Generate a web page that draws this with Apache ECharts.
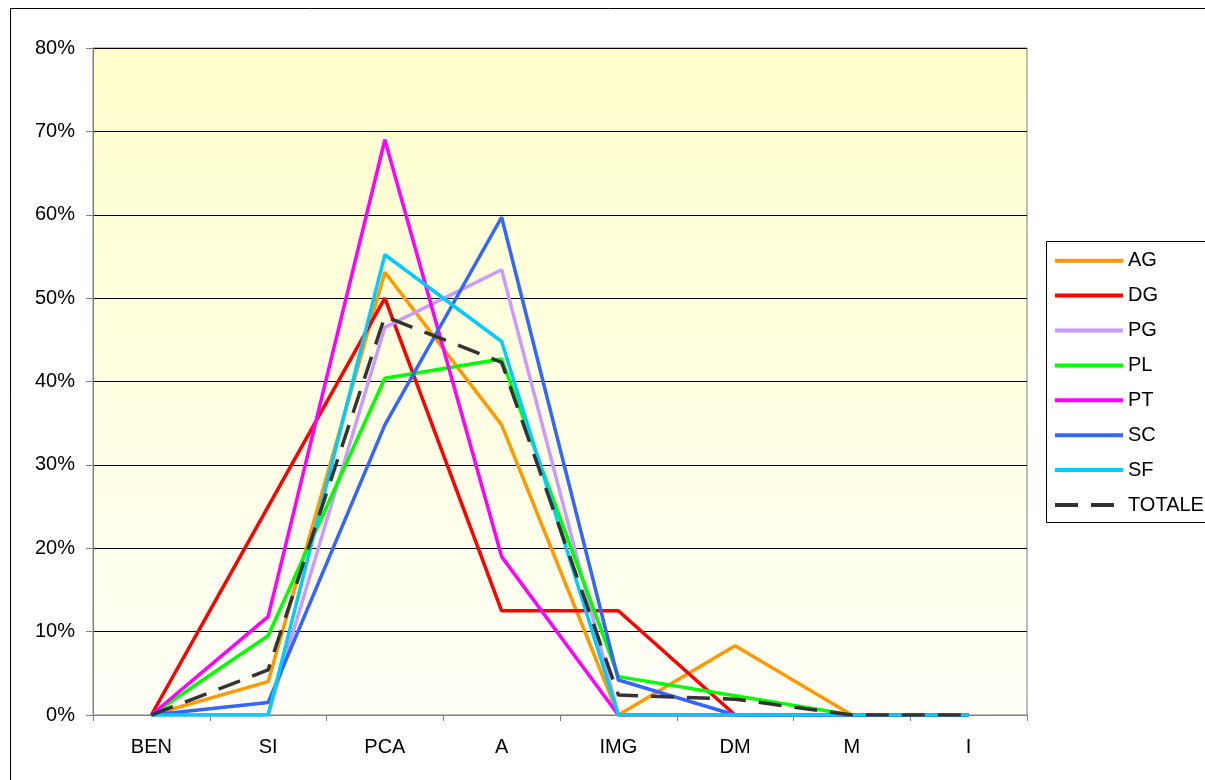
<!DOCTYPE html>
<html><head><meta charset="utf-8">
<script src="https://cdn.jsdelivr.net/npm/echarts@6/dist/echarts.min.js"></script>
<style>html,body{margin:0;padding:0;background:#fff}#c{width:1205px;height:780px}</style>
</head><body><div id="c"></div>
<script>
const categories = ['BEN','SI','PCA','A','IMG','DM','M','I'];
const AG     = [0, 0.040, 0.531, 0.348, 0,     0.083, 0, 0];
const DG     = [0, 0.250, 0.500, 0.125, 0.125, 0,     0, 0];
const PG     = [0, 0,     0.465, 0.534, 0,     0,     0, 0];
const PL     = [0, 0.095, 0.404, 0.427, 0.046, 0.023, 0, 0];
const PT     = [0, 0.118, 0.690, 0.190, 0,     0,     0, 0];
const SC     = [0, 0.015, 0.348, 0.597, 0.042, 0,     0, 0];
const SF     = [0, 0,     0.552, 0.448, 0,     0,     0, 0];
const TOTALE = [0, 0.054, 0.478, 0.423, 0.024, 0.019, 0, 0];

const seriesDefs = [
  ['AG', AG, '#FF9900', 'solid'],
  ['DG', DG, '#FF0000', 'solid'],
  ['PG', PG, '#CC99FF', 'solid'],
  ['PL', PL, '#00FF00', 'solid'],
  ['PT', PT, '#FF00FF', 'solid'],
  ['SC', SC, '#3366FF', 'solid'],
  ['SF', SF, '#00CCFF', 'solid'],
  ['TOTALE', TOTALE, '#333333', [23, 13]]
];
const font = '"Liberation Sans", Arial, sans-serif';
const chart = echarts.init(document.getElementById('c'));
chart.setOption({
  animation: false,
  backgroundColor: '#ffffff',
  graphic: [
    {type: 'rect', z: -10, shape: {x: 10.5, y: 8.5, width: 1300, height: 900},
     style: {fill: 'none', stroke: '#000', lineWidth: 1}},
    {type: 'rect', z: -10, shape: {x: 1046.5, y: 241.5, width: 200, height: 281},
     style: {fill: '#fff', stroke: '#000', lineWidth: 1}}
  ],
  grid: {left: 93, top: 48, width: 934, height: 667, show: true,
    borderColor: '#808080', borderWidth: 1,
    backgroundColor: new echarts.graphic.LinearGradient(0, 0, 0, 1, [
      {offset: 0, color: '#FFFFCC'}, {offset: 1, color: '#FFFFF8'}])},
  legend: {
    orient: 'vertical', left: 1048, top: 245.7, width: 160,
    itemWidth: 68, itemHeight: 14, itemGap: 14.9,
    itemStyle: {opacity: 0},
    lineStyle: {width: 4},
    textStyle: {fontFamily: font, fontSize: 20, color: '#000'},
    data: seriesDefs.map(s => s[0])
  },
  xAxis: {
    type: 'category', data: categories, boundaryGap: true,
    axisLine: {lineStyle: {color: '#808080', width: 1}},
    axisTick: {show: true, interval: 0, length: 6, lineStyle: {color: '#808080'}},
    axisLabel: {fontFamily: font, fontSize: 20, color: '#000', margin: 22, interval: 0},
    splitLine: {show: false}
  },
  yAxis: {
    type: 'value', min: 0, max: 0.8, interval: 0.1,
    axisLine: {show: true, lineStyle: {color: '#808080', width: 1}},
    axisTick: {show: true, length: 7, lineStyle: {color: '#808080'}},
    axisLabel: {fontFamily: font, fontSize: 20, color: '#000', margin: 18,
      formatter: v => Math.round(v * 100) + '%'},
    splitLine: {show: true, lineStyle: {color: '#000', width: 1}}
  },
  series: seriesDefs.map(s => ({
    name: s[0], type: 'line', data: s[1], symbol: 'none', showSymbol: false,
    lineStyle: {color: s[2], width: 3.5, type: s[3]},
    itemStyle: {color: s[2]},
    emphasis: {disabled: true}
  }))
});
</script></body></html>
